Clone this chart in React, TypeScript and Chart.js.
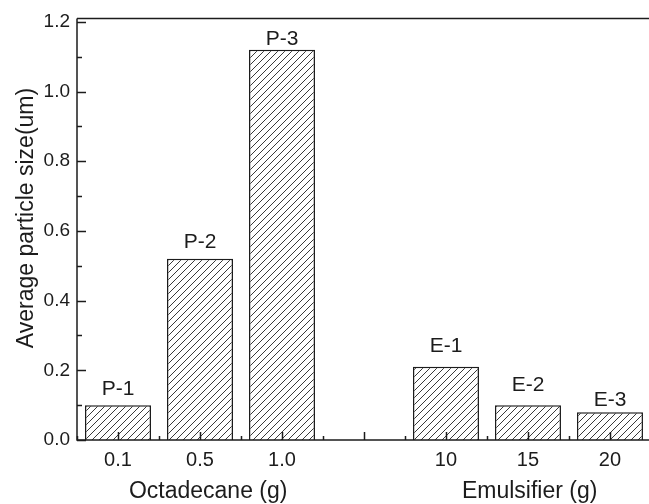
import { useEffect, useRef } from "react";
import { Chart, registerables } from "chart.js";

Chart.register(...registerables);

// Bar positions on the numeric x axis (slot 4 is left empty between the groups)
const positions = [1, 2, 3, 5, 6, 7];
const tickLabels = ["0.1", "0.5", "1.0", "10", "15", "20"];
const sizes = [0.1, 0.52, 1.12, 0.21, 0.1, 0.08];
const sampleNames = ["P-1", "P-2", "P-3", "E-1", "E-2", "E-3"];
const groupTitles = ["Octadecane (g)", "Emulsifier (g)"];
const groupCenters = [2.1, 6.02];
const yTickValues = [0, 0.2, 0.4, 0.6, 0.8, 1.0, 1.2];
const yTitle = "Average particle size(um)";

// Layout / style constants
const FONT = '"Liberation Sans", Arial, Helvetica, sans-serif';
const INK = "#1c1c1c";
const LABEL_LIFT = [10, 11, 5, 15, 14, 6];

function makeHatch(): CanvasPattern | string {
  const s = 7;
  const c = document.createElement("canvas");
  c.width = s;
  c.height = s;
  const g = c.getContext("2d");
  if (!g) return "#fff";
  g.fillStyle = "#ffffff";
  g.fillRect(0, 0, s, s);
  g.strokeStyle = "#3a3a3a";
  g.lineWidth = 1;
  g.beginPath();
  g.moveTo(-1, s + 1);
  g.lineTo(s + 1, -1);
  g.moveTo(-1, 1);
  g.lineTo(1, -1);
  g.moveTo(s - 1, s + 1);
  g.lineTo(s + 1, s - 1);
  g.stroke();
  return g.createPattern(c, "repeat") || "#fff";
}

const framePlugin = {
  id: "frameAndLabels",
  afterDatasetsDraw(chart: any) {
    const { ctx, chartArea } = chart;
    const xs = chart.scales.x;
    const ys = chart.scales.y;
    const { left, right, top, bottom } = chartArea;
    ctx.save();
    ctx.strokeStyle = INK;
    ctx.lineWidth = 1.5;

    // inward tick marks on the y axis
    ctx.beginPath();
    for (let k = 0; k <= 12; k++) {
      const y = Math.round(ys.getPixelForValue(k / 10)) + 0.5;
      const len = k % 2 === 0 ? 9 : 5;
      ctx.moveTo(left, y);
      ctx.lineTo(left + len, y);
    }
    // inward tick marks on the x axis
    for (let k = 1; k <= 14; k++) {
      const v = k / 2;
      const x = Math.round(xs.getPixelForValue(v)) + 0.5;
      const len = k % 2 === 0 ? 8 : 4;
      ctx.moveTo(x, bottom);
      ctx.lineTo(x, bottom - len);
    }
    ctx.stroke();

    // axis frame: left, bottom and top
    ctx.beginPath();
    ctx.moveTo(left, top);
    ctx.lineTo(right, top);
    ctx.moveTo(left, top);
    ctx.lineTo(left, bottom);
    ctx.lineTo(right, bottom);
    ctx.stroke();

    // sample names above bars
    ctx.fillStyle = INK;
    ctx.font = `21px ${FONT}`;
    ctx.textAlign = "center";
    ctx.textBaseline = "alphabetic";
    const meta = chart.getDatasetMeta(0);
    meta.data.forEach((bar: any, i: number) => {
      ctx.fillText(sampleNames[i], bar.x, bar.y - LABEL_LIFT[i]);
    });

    // group titles under the x axis
    ctx.font = `23px ${FONT}`;
    groupTitles.forEach((t, i) => {
      ctx.fillText(t, xs.getPixelForValue(groupCenters[i]), 498);
    });

    // y axis title
    ctx.translate(33, 218);
    ctx.rotate(-Math.PI / 2);
    ctx.fillText(yTitle, 0, 0);
    ctx.restore();
  },
};

export default function App() {
  const ref = useRef<HTMLCanvasElement>(null);

  useEffect(() => {
    document.body.style.margin = "0";
    document.documentElement.style.overflow = "hidden";
    const canvas = ref.current;
    if (!canvas) return;
    const hatch = makeHatch();

    const chart = new Chart(canvas, {
      type: "bar",
      data: {
        datasets: [
          {
            data: positions.map((x, i) => ({ x, y: sizes[i] })),
            backgroundColor: hatch as any,
            borderColor: INK,
            borderWidth: 1.5,
            barPercentage: 0.805,
            categoryPercentage: 1,
          },
        ],
      },
      options: {
        responsive: false,
        animation: false,
        devicePixelRatio: 1,
        layout: { padding: { top: 16, left: 0, right: 0, bottom: 0 } },
        plugins: {
          legend: { display: false },
          tooltip: { enabled: false },
        },
        scales: {
          x: {
            type: "linear",
            min: 0.5,
            max: 7.476,
            offset: false,
            grid: { display: false, drawTicks: false },
            border: { display: false },
            afterBuildTicks: (s: any) => {
              s.ticks = positions.map((v) => ({ value: v }));
            },
            afterFit: (s: any) => {
              s.height = 64;
            },
            ticks: {
              autoSkip: false,
              maxRotation: 0,
              padding: 8,
              color: INK,
              font: { family: FONT, size: 20 },
              callback: (_v: any, i: number) => tickLabels[i],
            },
          },
          y: {
            type: "linear",
            min: 0,
            max: 1.21,
            grid: { display: false, drawTicks: false },
            border: { display: false },
            afterBuildTicks: (s: any) => {
              s.ticks = yTickValues.map((v) => ({ value: v }));
            },
            afterFit: (s: any) => {
              s.width = 77;
            },
            ticks: {
              padding: 7,
              color: INK,
              font: { family: FONT, size: 19 },
              callback: (v: any) => Number(v).toFixed(1),
            },
          },
        },
      } as any,
      plugins: [framePlugin],
    });

    return () => chart.destroy();
  }, []);

  return (
    <canvas
      ref={ref}
      width={649}
      height={504}
      style={{ display: "block", width: 649, height: 504 }}
    />
  );
}
